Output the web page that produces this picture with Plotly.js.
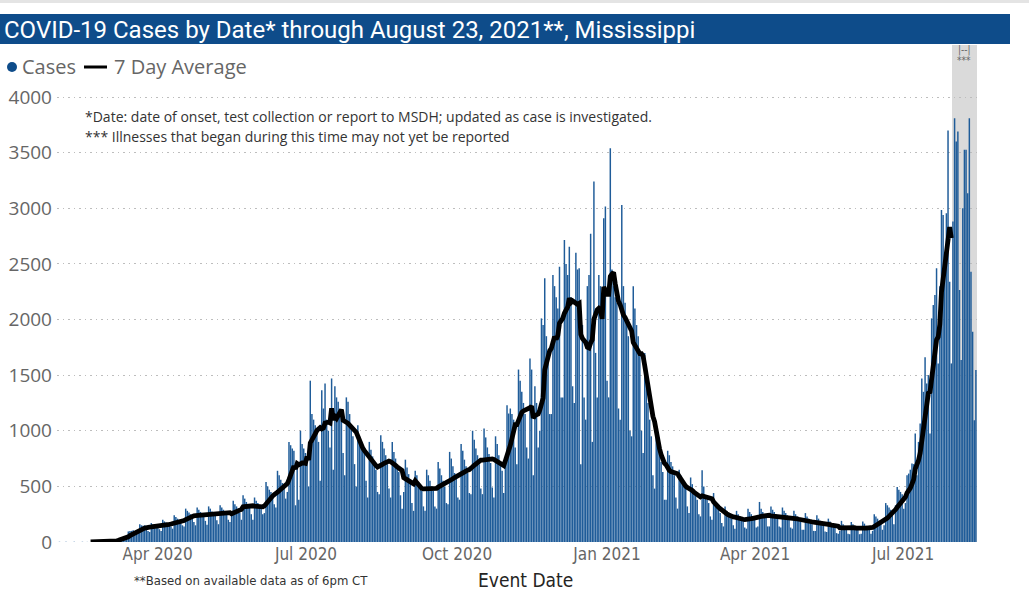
<!DOCTYPE html>
<html><head><meta charset="utf-8">
<script src="https://cdn.plot.ly/plotly-3.0.1.min.js"></script>
<style>html,body{margin:0;padding:0;background:#fff}#chart{width:1029px;height:609px}</style>
</head><body><div id="chart"></div>
<script>
// Daily cases by event date, 2020-02-09 .. 2021-08-23
const firstDate = [2020, 1, 9];
const feb2020 = [0,0,2,0,1,0,3,0,0,1,0,2,0,0,1,0,2,1,0,1,0];
const mar2020 = [0,0,1,2,1,3,2,1,2,5,4,8,10,9,6,12,28,32,36,40,42,34,50,95,100,100,105,100,80,90,160];
const apr2020 = [150,145,150,140,100,90,170,160,150,155,140,115,100,200,185,175,170,160,140,120,240,225,210,200,190,150,140,300,280,265];
const may2020 = [250,235,180,150,310,290,270,260,245,190,155,320,300,275,265,250,195,160,330,310,290,275,260,200,180,260,370,340,320,300,260];
const jun2020 = [200,420,390,360,340,320,250,200,400,370,350,330,310,250,260,540,500,470,450,420,340,310,640,600,560,530,500,390,450,900];
const jul2020 = [870,840,820,330,720,380,1000,880,840,800,760,500,1450,1150,1100,1050,1000,900,550,1365,1200,1425,1100,1000,850,1470,650,1400,1300,1260,1150];
const aug2020 = [1100,800,600,1300,1260,1150,1050,950,700,500,1050,950,900,850,800,550,400,900,830,770,720,650,450,430,960,900,840,780,700,480,400];
const sep2020 = [900,810,750,690,630,420,300,450,740,670,610,560,350,280,640,600,540,500,460,320,280,650,600,550,500,460,320,300,720,660];
const oct2020 = [600,550,500,350,340,810,750,680,620,570,400,380,880,820,740,680,620,440,430,1000,920,840,780,700,480,430,1020,940,850,790,710];
const nov2020 = [490,400,950,880,780,720,640,440,700,1230,1155,1200,1150,1100,850,700,1550,1450,1350,1250,1150,850,750,1650,1550,600,1400,1250,850,1000];
const dec2020 = [2010,1950,2370,1850,1700,1150,1150,2400,2300,2200,2100,2475,1300,1300,2715,2500,2400,2655,2200,1400,1250,2600,2450,2460,700,1950,1300,1100,2300,2400,2770];
const jan2021 = [900,3240,1700,1300,2400,2300,2200,2910,3015,1450,1300,3540,2450,2300,2200,2150,1200,1100,3030,2300,2150,2000,1850,1000,950,2300,2100,1950,1850,1700,1000];
const feb2021 = [800,1700,1500,1250,1100,950,600,480,1050,900,800,720,630,380,380,820,780,720,680,600,400,300,650,600,560,520,480,320];
const mar2021 = [260,580,520,460,420,380,250,230,645,500,420,380,350,230,200,440,360,320,290,260,170,140,320,280,250,230,210,150,120,280,250];
const apr2021 = [230,210,190,130,120,300,270,250,230,200,130,140,360,300,270,250,220,140,140,320,290,270,250,220,140,130,310,280,260,240];
const may2021 = [210,130,120,280,250,230,210,180,110,110,260,230,210,190,160,100,100,240,210,190,170,150,95,90,210,185,165,150,130,80,75];
const jun2021 = [100,190,160,145,125,75,70,180,160,140,125,110,70,75,185,165,145,130,115,75,100,250,230,210,190,170,110,150,350,330];
const jul2021 = [310,290,270,160,330,495,470,450,430,300,350,600,615,650,705,700,975,600,900,1065,1470,1350,1660,1425,1500,975,2010,2130,2220,2460,1605];
const aug2021 = [2300,2985,2940,2600,2955,3700,2340,1605,2880,3810,3600,3690,2265,1635,3000,3525,3525,3135,3810,2430,1890,1095,1545];

const tickDates = ['2020-04-10 22:00','2020-07-10 09:00','2020-10-10 12:00','2021-01-10 00:00','2021-04-10 06:00','2021-07-09 13:00'];
const tickLabels = ['Apr 2020','Jul 2020','Oct 2020','Jan 2021','Apr 2021','Jul 2021'];
const yTicks = [0,500,1000,1500,2000,2500,3000,3500,4000];
const avgFirst = '2020-03-01';
const avgLast = '2021-08-08';
const lateStart = '2021-08-08 10:00';
const lateEnd = '2021-08-23 16:00';

const cases = [].concat(feb2020, mar2020, apr2020, may2020, jun2020, jul2020, aug2020, sep2020, oct2020, nov2020, dec2020,
  jan2021, feb2021, mar2021, apr2021, may2021, jun2021, jul2021, aug2021);
const dates = cases.map((_, i) => new Date(Date.UTC(firstDate[0], firstDate[1], firstDate[2] + i)).toISOString().slice(0, 10));

const avgX = [], avgY = [];
const i0 = dates.indexOf(avgFirst), i1 = dates.indexOf(avgLast);
for (let i = i0; i <= i1; i++) {
  let s = 0;
  for (let j = i - 6; j <= i; j++) s += cases[j];
  avgX.push(dates[i]);
  avgY.push(Math.round(s / 7 * 10) / 10);
}

// pixel helpers (plot area 57..980 x, 45..542 y)
const L = 57, R = 980, T = 45, B = 542;
const px = p => (p - L) / (R - L);
const py = p => (B - p) / (B - T);

const trBars = {
  type: 'bar', x: dates, y: cases, name: 'Cases',
  marker: {color: '#1F5C99', line: {width: 0}},
  hovertemplate: '%{x}<br>%{y}<extra></extra>'
};
const trAvg = {
  type: 'scatter', mode: 'lines', x: avgX, y: avgY, name: '7 Day Average',
  line: {color: '#000000', width: 4.8},
  hovertemplate: '%{x}<br>%{y:.0f}<extra></extra>'
};

const sans = 'Open Sans, Segoe UI, sans-serif';
const narrow = 'DejaVu Sans Condensed, Liberation Sans Narrow, Roboto, sans-serif';

const layout = {
  width: 1029, height: 609,
  margin: {l: L, r: 1029 - R, t: T, b: 609 - B},
  paper_bgcolor: '#ffffff', plot_bgcolor: 'rgba(0,0,0,0)',
  showlegend: false, bargap: 0.1,
  title: {text: 'COVID-19 Cases by Date* through August 23, 2021**, Mississippi',
    font: {family: 'Roboto, sans-serif', size: 24, color: '#ffffff'},
    x: 4 / 1029, xanchor: 'left', xref: 'container', y: 1 - 29.5 / 609, yanchor: 'middle', yref: 'container'},
  xaxis: {
    type: 'date', range: ['2020-02-09 12:00', '2021-08-25 12:00'],
    tickmode: 'array', tickvals: tickDates, ticktext: tickLabels,
    showgrid: false, zeroline: false, showline: false, ticks: '',
    tickfont: {family: narrow, size: 17, color: '#666666'},
    title: {text: '', font: {family: narrow, size: 19, color: '#252423'}}
  },
  yaxis: {
    range: [0, 4000 * (B - T) / (B - 97)], tickmode: 'array', tickvals: yTicks,
    showgrid: true, gridcolor: '#bdbdbd', griddash: '1.5px,4px', gridwidth: 1,
    zeroline: false, showline: false, ticks: '', ticklabelstandoff: 4,
    tickfont: {family: sans, size: 19, color: '#666666'}
  },
  shapes: [
    {type: 'line', xref: 'paper', yref: 'paper', x0: px(0), x1: px(1029), y0: py(1.5), y1: py(1.5), line: {color: '#e4e4e4', width: 3}},
    {type: 'rect', xref: 'paper', yref: 'paper', x0: px(0), x1: px(1010), y0: py(44), y1: py(14), fillcolor: '#0E4C8A', line: {width: 0}, layer: 'below'},
    {type: 'rect', xref: 'x', yref: 'paper', x0: lateStart, x1: lateEnd, y0: 0, y1: 1, fillcolor: '#dadada', line: {width: 0}, layer: 'below'},
    {type: 'circle', xref: 'paper', yref: 'paper', x0: px(7), x1: px(17), y0: py(62), y1: py(72), fillcolor: '#0E4C8A', line: {width: 0}},
    {type: 'line', xref: 'paper', yref: 'paper', x0: px(84), x1: px(107), y0: py(67), y1: py(67), line: {color: '#000000', width: 3}}
  ],
  annotations: [
    {xref: 'paper', yref: 'paper', x: px(20), y: py(67), xanchor: 'left', yanchor: 'middle', showarrow: false,
      text: 'Cases', font: {family: sans, size: 20, color: '#666666'}},
    {xref: 'paper', yref: 'paper', x: px(112), y: py(67), xanchor: 'left', yanchor: 'middle', showarrow: false,
      text: '7 Day Average', font: {family: sans, size: 20, color: '#666666'}},
    {xref: 'paper', yref: 'paper', x: px(83), y: py(116), xanchor: 'left', yanchor: 'middle', showarrow: false,
      text: '*Date: date of onset, test collection or report to MSDH; updated as case is investigated.', font: {family: sans, size: 14, color: '#333333'}},
    {xref: 'paper', yref: 'paper', x: px(83), y: py(136), xanchor: 'left', yanchor: 'middle', showarrow: false,
      text: '*** Illnesses that began during this time may not yet be reported', font: {family: sans, size: 14, color: '#333333'}},
    {xref: 'paper', yref: 'paper', x: px(132), y: py(580), xanchor: 'left', yanchor: 'middle', showarrow: false,
      text: '**Based on available data as of 6pm CT', font: {family: narrow, size: 13, color: '#333333'}},
    {xref: 'paper', yref: 'paper', x: px(525), y: py(580), xanchor: 'center', yanchor: 'middle', showarrow: false,
      text: 'Event Date', font: {family: narrow, size: 19, color: '#252423'}},
    {xref: 'paper', yref: 'paper', x: px(964), y: py(50), xanchor: 'center', yanchor: 'middle', showarrow: false,
      text: '|--|', font: {family: narrow, size: 10, color: '#666666'}},
    {xref: 'paper', yref: 'paper', x: px(964), y: py(61), xanchor: 'center', yanchor: 'middle', showarrow: false,
      text: '***', font: {family: narrow, size: 10, color: '#666666'}}
  ]
};

Plotly.newPlot('chart', [trBars, trAvg], layout, {displayModeBar: false, staticPlot: true});
</script></body></html>
